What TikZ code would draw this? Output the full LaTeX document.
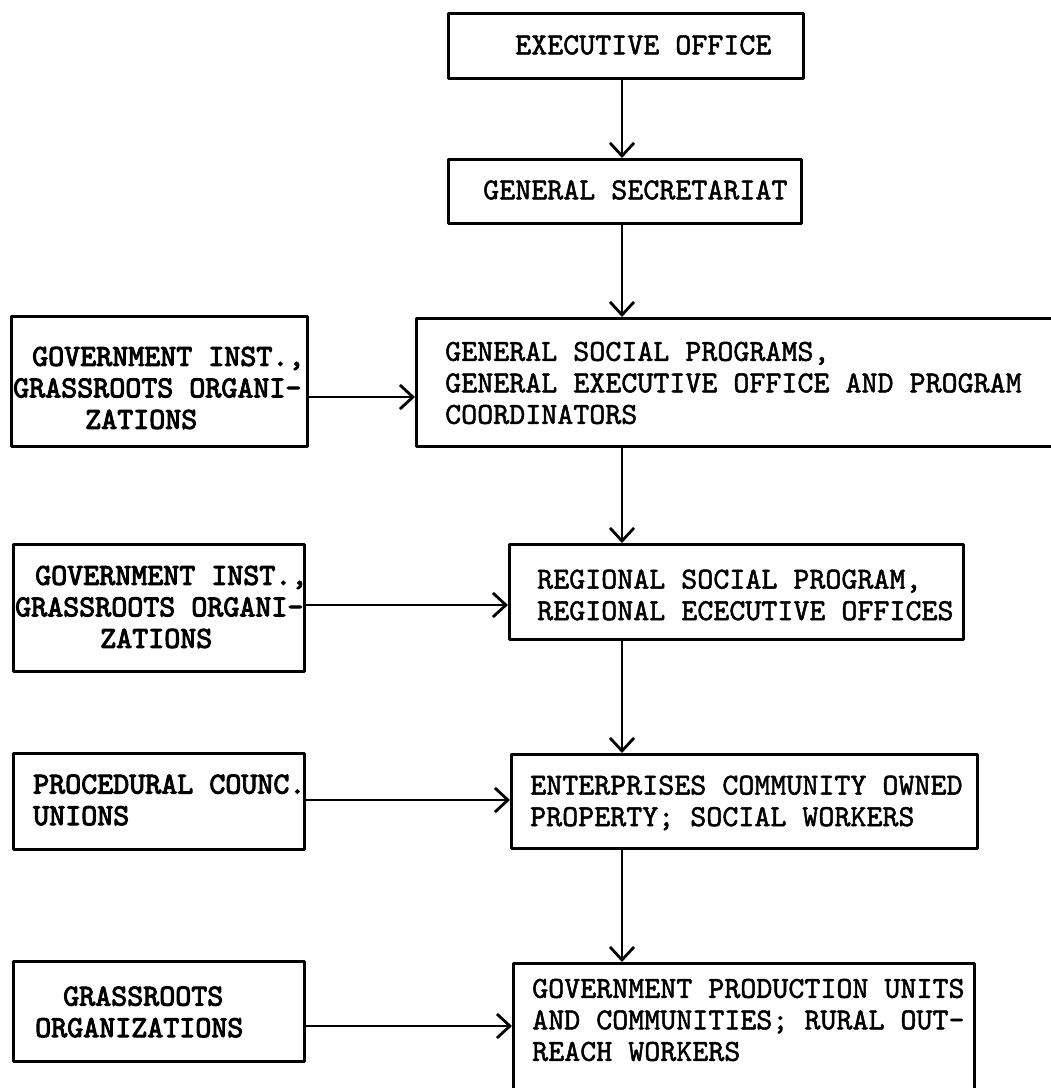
\documentclass[tikz,border=0pt]{standalone}
\usepackage{fontspec}
\usetikzlibrary{arrows.meta}
% typewriter faces: a medium one for the office boxes, a heavier one for the side boxes
\newfontfamily\typemedium{lmmono10-regular.otf}[FakeBold=1.6]
\newfontfamily\typeheavy{lmmono10-regular.otf}[FakeBold=3.2]
\newcommand{\boxlines}[1]{\begin{tabular}{@{}l@{}}#1\end{tabular}}
\begin{document}
\begin{tikzpicture}[x=1pt, y=-1pt,
  frame/.style={draw, line width=2.7pt, line join=round, inner sep=0pt, anchor=north west},
  plain/.style={inner sep=0pt, anchor=west, font=\typemedium\fontsize{30.5}{31.5}\selectfont},
  heavy/.style={inner sep=0pt, anchor=west, font=\typeheavy\fontsize{30.5}{31.5}\selectfont},
  arr/.style={line width=2.8pt, -{Straight Barb[length=13pt, width=24pt]}}
]
\fill[white] (0,0) rectangle (1051,1088);
\useasboundingbox (0,0) rectangle (1051,1088);

% main chain of offices
\node[frame, minimum width=355pt, minimum height=65pt]  (exec)   at (447,12)  {};
\node[frame, minimum width=353pt, minimum height=64pt]  (gensec) at (447,158) {};
\node[frame, minimum width=660pt, minimum height=128pt] (prog)   at (415,317) {};
\node[frame, minimum width=454pt, minimum height=95pt]  (reg)    at (508,543) {};
\node[frame, minimum width=466pt, minimum height=94pt]  (ent)    at (510,753) {};
\node[frame, minimum width=461pt, minimum height=160pt] (gov)    at (512,962) {};

% supporting bodies on the left
\node[frame, minimum width=296pt, minimum height=130pt] (g1) at (10,315) {};
\node[frame, minimum width=291pt, minimum height=127pt] (g2) at (12,543) {};
\node[frame, minimum width=291pt, minimum height=96pt]  (pc) at (12,752) {};
\node[frame, minimum width=291pt, minimum height=100pt] (gr) at (12,960) {};

% labels
\node[plain] (exec-t)   at (515,48)   {\boxlines{EXECUTIVE OFFICE}};
\node[plain] (gensec-t) at (483,193)  {\boxlines{GENERAL SECRETARIAT}};
\node[plain] (prog-t)   at (445,386)  {\boxlines{GENERAL SOCIAL PROGRAMS,\\GENERAL EXECUTIVE OFFICE AND PROGRAM\\COORDINATORS}};
\node[plain] (reg-t)    at (537,598)  {\boxlines{REGIONAL SOCIAL PROGRAM,\\REGIONAL ECECUTIVE OFFICES}};
\node[plain] (ent-t)    at (530,804)  {\boxlines{ENTERPRISES COMMUNITY OWNED\\PROPERTY; SOCIAL WORKERS}};
\node[plain] (gov-t)    at (532,1023) {\boxlines{GOVERNMENT PRODUCTION UNITS\\AND COMMUNITIES; RURAL OUT-\\REACH WORKERS}};

\node[heavy] (g1-t) at (13,391)  {\boxlines{\hspace*{19pt}GOVERNMENT INST.,\\GRASSROOTS ORGANI-\\\hspace*{72pt}ZATIONS}};
\node[heavy] (g2-t) at (15,610)  {\boxlines{\hspace*{20pt}GOVERNMENT INST.,\\GRASSROOTS ORGANI-\\\hspace*{85pt}ZATIONS}};
\node[heavy] (pc-t) at (33,803)  {\boxlines{PROCEDURAL COUNC.\\UNIONS}};
\node[heavy] (gr-t) at (35,1015) {\boxlines{\hspace*{28pt}GRASSROOTS\\ORGANIZATIONS}};

% connector guides
\coordinate (spine) at (622,0);
\coordinate (r1) at (0,397);
\coordinate (r2) at (0,605);
\coordinate (r3) at (0,800);
\coordinate (r4) at (0,1026);

% vertical chain
\draw[arr] (exec.south -| spine)   -- (gensec.north -| spine);
\draw[arr] (gensec.south -| spine) -- (prog.north -| spine);
\draw[arr] (prog.south -| spine)   -- (reg.north -| spine);
\draw[arr] (reg.south -| spine)    -- (ent.north -| spine);
\draw[arr] (ent.south -| spine)    -- (gov.north -| spine);

% inputs from the left
\draw[arr] (g1.east |- r1) -- (prog.west |- r1);
\draw[arr] (g2.east |- r2) -- (reg.west |- r2);
\draw[arr] (pc.east |- r3) -- (ent.west |- r3);
\draw[arr] (gr.east |- r4) -- (gov.west |- r4);
\end{tikzpicture}
\end{document}
